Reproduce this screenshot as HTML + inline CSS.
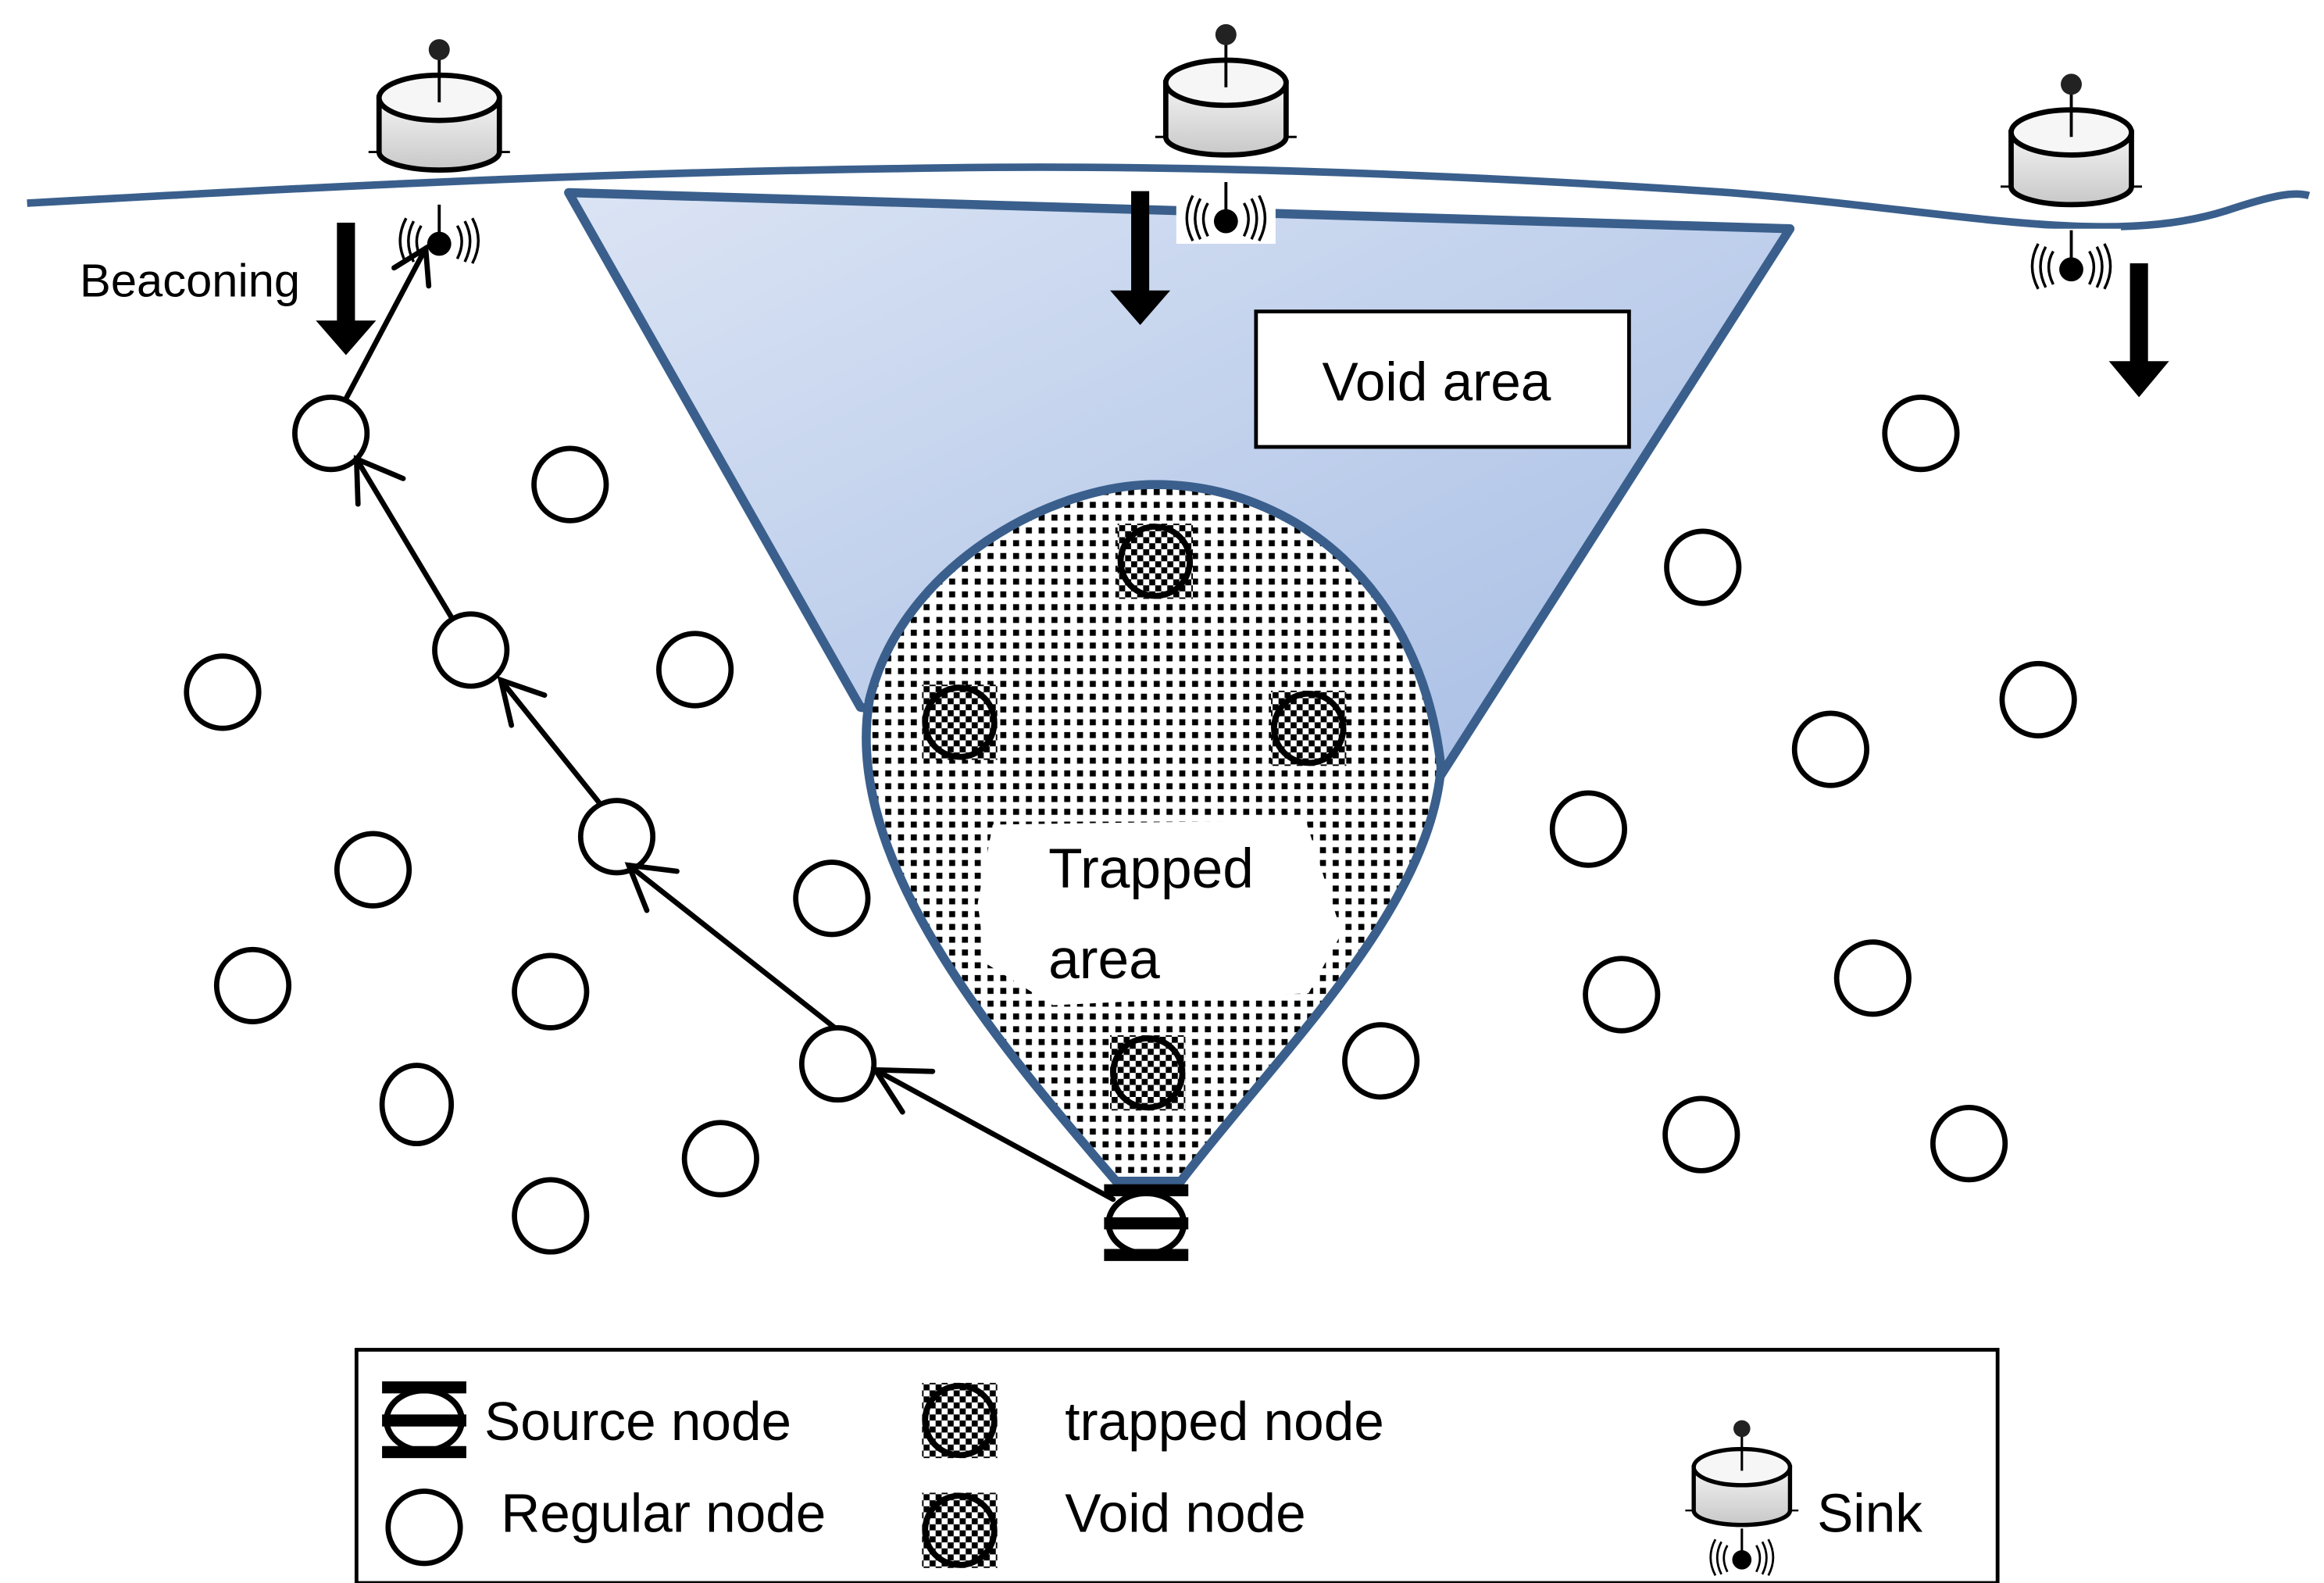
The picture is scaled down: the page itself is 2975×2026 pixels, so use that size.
<!DOCTYPE html>
<html><head><meta charset="utf-8"><style>html,body{margin:0;padding:0;background:#fff}svg{display:block}</style></head>
<body>
<svg width="2975" height="2026" viewBox="0 0 1545 1052" preserveAspectRatio="none" xmlns="http://www.w3.org/2000/svg" font-family="'Liberation Sans', sans-serif">
<defs>
<linearGradient id="vg" x1="0" y1="0" x2="1" y2="1">
<stop offset="0" stop-color="#dbe4f4"/><stop offset="1" stop-color="#a5bce4"/></linearGradient>
<pattern id="dots" width="8.5" height="8.5" patternUnits="userSpaceOnUse"><rect width="8.5" height="8.5" fill="#fff"/><rect x="2" y="2" width="4" height="4" fill="#000"/></pattern>
<pattern id="chk" width="8" height="8" patternUnits="userSpaceOnUse"><rect width="8" height="8" fill="#fff"/><rect width="4" height="4" fill="#000"/><rect x="4" y="4" width="4" height="4" fill="#000"/></pattern>
<linearGradient id="cyl" x1="0" y1="0" x2="0" y2="1"><stop offset="0" stop-color="#f4f4f4"/><stop offset="1" stop-color="#c8c8c8"/></linearGradient>
<g id="sinkTop">
<line x1="0" y1="-30" x2="0" y2="-5" stroke="#000" stroke-width="2"/>
<circle cx="0" cy="-32" r="7" fill="#222"/>
<line x1="-47" y1="36" x2="47" y2="36" stroke="#000" stroke-width="1.5"/>
<path d="M-40,0 L-40,38 A40,12 0 0 0 80,38 Z" fill="none"/>
<path d="M-40,0 L-40,36 A40,12 0 0 0 40,36 L40,0 Z" fill="url(#cyl)" stroke="#000" stroke-width="3.5"/>
<ellipse cx="0" cy="0" rx="40" ry="15" fill="#f6f6f6" stroke="#000" stroke-width="3.5"/>
<line x1="0" y1="-15" x2="0" y2="3" stroke="#000" stroke-width="2"/>
</g>
<g id="sinkBot">
<rect x="-33" y="-5" width="66" height="42" fill="#fff"/>
<line x1="0" y1="-4" x2="0" y2="20" stroke="#000" stroke-width="2"/>
<circle cx="0" cy="22" r="8" fill="#000"/>
<g fill="none" stroke="#000" stroke-width="1.8">
<path d="M-12,10 Q-18,20 -12,32"/><path d="M-17,7 Q-24,20 -17,34"/><path d="M-22,5 Q-30,20 -22,35"/>
<path d="M12,10 Q18,20 12,32"/><path d="M17,7 Q24,20 17,34"/><path d="M22,5 Q30,20 22,35"/>
</g>
</g>
<g id="vnode"><rect x="-25" y="-25" width="50" height="50" fill="url(#chk)"/><circle r="23" fill="none" stroke="#000" stroke-width="4"/></g>
<g id="src"><ellipse rx="25" ry="20" fill="#fff" stroke="#000" stroke-width="4"/><rect x="-28" y="-26" width="56" height="8" fill="#000"/><rect x="-28" y="-4" width="56" height="8" fill="#000"/><rect x="-28" y="17" width="56" height="8" fill="#000"/></g>
</defs>

<polygon points="378,128 1190,152 958,515 768,500 572,470" fill="url(#vg)" stroke="#3a5f8c" stroke-width="6" stroke-linejoin="round"/>
<path d="M742,785 C660,690 560,570 578,465 C600,375 700,322 768,322 C860,322 945,390 958,510 C950,605 850,700 785,785 Z" fill="url(#dots)" stroke="#3a5f8c" stroke-width="6"/>
<polygon points="660,548 868,545 892,620 870,660 700,668 655,640 650,600" fill="#fff"/>
<text x="697" y="590" font-size="37">Trapped</text>
<text x="697" y="650" font-size="37">area</text>
<use href="#vnode" x="768" y="373"/><use href="#vnode" x="638" y="480"/><use href="#vnode" x="870" y="484"/><use href="#vnode" x="763" y="713"/>

<path d="M18,135 C200,125 380,115 600,112 C800,108 1000,118 1150,128 C1300,140 1400,165 1480,140 C1510,130 1525,127 1535,130" fill="none" stroke="#3a5f8c" stroke-width="5"/>

<use href="#sinkTop" x="292" y="65"/><use href="#sinkBot" x="292" y="140"/>
<use href="#sinkTop" x="815" y="55"/><use href="#sinkBot" x="815" y="125"/>
<use href="#sinkTop" x="1377" y="88"/><use href="#sinkBot" x="1377" y="157"/>

<g fill="#000">
<polygon points="224,148 236,148 236,213 250,213 230,236 210,213 224,213"/>
<polygon points="752,127 764,127 764,193 778,193 758,216 738,193 752,193"/>
<polygon points="1416,175 1428,175 1428,240 1442,240 1422,264 1402,240 1416,240"/>
</g>
<text x="53" y="197" font-size="31">Beaconing</text>

<rect x="835" y="207" width="248" height="90" fill="#fff" stroke="#000" stroke-width="2.5"/>
<text x="955" y="266" font-size="36" text-anchor="middle">Void area</text>

<g fill="#fff" stroke="#000" stroke-width="3.5">
<circle cx="220" cy="288" r="24"/><circle cx="379" cy="322" r="24"/><circle cx="148" cy="460" r="24"/><circle cx="313" cy="432" r="24"/><circle cx="462" cy="445" r="24"/><circle cx="248" cy="578" r="24"/><circle cx="410" cy="556" r="24"/><circle cx="553" cy="597" r="24"/><circle cx="168" cy="655" r="24"/><circle cx="366" cy="659" r="24"/><circle cx="557" cy="707" r="24"/><ellipse cx="277" cy="734" rx="23" ry="26"/><circle cx="479" cy="770" r="24"/><circle cx="366" cy="808" r="24"/><circle cx="918" cy="705" r="24"/><circle cx="1277" cy="288" r="24"/><circle cx="1132" cy="377" r="24"/><circle cx="1355" cy="465" r="24"/><circle cx="1217" cy="498" r="24"/><circle cx="1056" cy="551" r="24"/><circle cx="1078" cy="661" r="24"/><circle cx="1245" cy="650" r="24"/><circle cx="1131" cy="754" r="24"/><circle cx="1309" cy="760" r="24"/>
</g>

<g stroke="#000" stroke-width="3.5" fill="none" stroke-linecap="round">
<line x1="740" y1="797" x2="582" y2="711"/><polyline points="620,712 582,711 600,739"/>
<line x1="555" y1="683" x2="418" y2="575"/><polyline points="450,579 418,575 430,605"/>
<line x1="398" y1="533" x2="333" y2="452"/><polyline points="362,462 333,452 340,482"/>
<line x1="300" y1="410" x2="237" y2="305"/><polyline points="268,318 237,305 238,335"/>
<line x1="230" y1="265" x2="283" y2="165"/><polyline points="262,178 283,165 285,190"/>
</g>
<use href="#src" x="762" y="813"/>

<rect x="237" y="897" width="1091" height="155" fill="#fff" stroke="#000" stroke-width="2.5"/>
<use href="#src" x="282" y="944"/>
<text x="322" y="957" font-size="36">Source node</text>
<circle cx="282" cy="1015" r="24" fill="#fff" stroke="#000" stroke-width="3.5"/>
<text x="333" y="1018" font-size="36">Regular node</text>
<use href="#vnode" x="638" y="944"/>
<text x="708" y="957" font-size="36">trapped node</text>
<use href="#vnode" x="638" y="1017"/>
<text x="708" y="1018" font-size="36">Void node</text>
<g transform="translate(1158,975) scale(0.8)"><use href="#sinkTop" x="0" y="0"/><use href="#sinkBot" x="0" y="55"/></g>
<text x="1208" y="1018" font-size="36">Sink</text>
</svg>
</body></html>
